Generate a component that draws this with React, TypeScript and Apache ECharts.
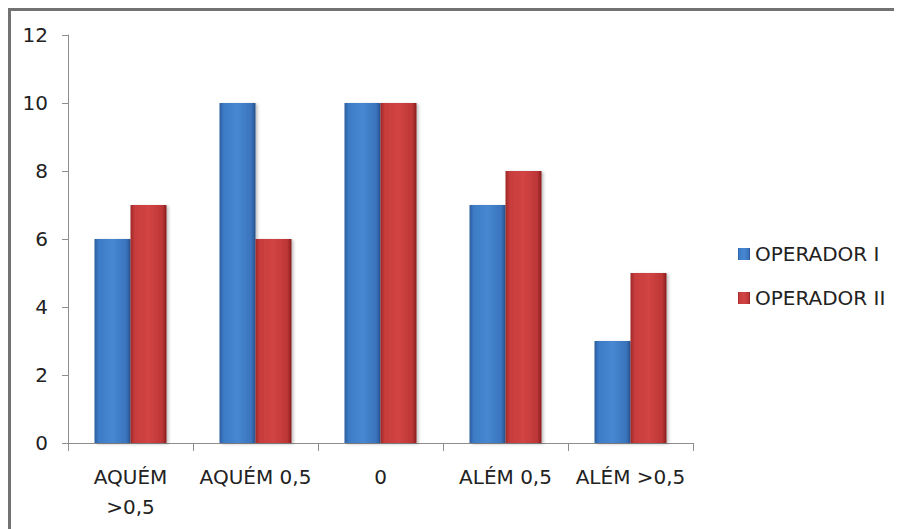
import React, { useEffect, useRef } from "react";
import * as echarts from "echarts";

const categories = ["AQUÉM\n>0,5", "AQUÉM 0,5", "0", "ALÉM 0,5", "ALÉM >0,5"];
const operador1 = [6, 10, 10, 7, 3];
const operador2 = [7, 6, 10, 8, 5];
const seriesNames = ["OPERADOR I", "OPERADOR II"];

const FONT = "'DejaVu Sans', 'Noto Sans', sans-serif";
const TEXT = "#222222";

const blueGrad = new echarts.graphic.LinearGradient(0, 0, 1, 0, [
  { offset: 0, color: "#2c5e9f" },
  { offset: 0.12, color: "#3d7bc6" },
  { offset: 0.5, color: "#4787d2" },
  { offset: 0.88, color: "#3a74bd" },
  { offset: 1, color: "#27518b" },
]);
const redGrad = new echarts.graphic.LinearGradient(0, 0, 1, 0, [
  { offset: 0, color: "#9e2828" },
  { offset: 0.12, color: "#c73c3c" },
  { offset: 0.5, color: "#d24444" },
  { offset: 0.88, color: "#bd3636" },
  { offset: 1, color: "#871e1e" },
]);

export default function App() {
  const ref = useRef<HTMLDivElement>(null);
  useEffect(() => {
    document.documentElement.style.overflow = "hidden";
    document.body.style.overflow = "hidden";
    if (!ref.current) return;
    const chart = echarts.init(ref.current, null, { renderer: "svg" });
    chart.setOption({
      animation: false,
      backgroundColor: "#ffffff",
      textStyle: { fontFamily: FONT },
      graphic: [
        { type: "line", shape: { x1: 0, y1: 1.5, x2: 894, y2: 1.5 }, style: { stroke: "#727272", lineWidth: 3 } },
        { type: "line", shape: { x1: 1.5, y1: 0, x2: 1.5, y2: 521 }, style: { stroke: "#727272", lineWidth: 3 } },
      ],
      grid: { left: 60, top: 27, width: 625, height: 408, containLabel: false },
      legend: {
        orient: "vertical",
        left: 725,
        top: 231,
        itemWidth: 12,
        itemHeight: 12,
        itemGap: 24,
        icon: "rect",
        textStyle: { fontFamily: FONT, fontSize: 20, color: TEXT, lineHeight: 20 },
        data: seriesNames,
      },
      xAxis: {
        type: "category",
        data: categories,
        axisLine: { lineStyle: { color: "#8e8e8e", width: 1 } },
        axisTick: { show: true, length: 8, lineStyle: { color: "#8e8e8e" } },
        axisLabel: { interval: 0, margin: 19, fontSize: 20, color: TEXT, lineHeight: 30, fontFamily: FONT },
        splitLine: { show: false },
      },
      yAxis: {
        type: "value",
        min: 0,
        max: 12,
        interval: 2,
        axisLine: { show: true, lineStyle: { color: "#8e8e8e", width: 1 } },
        axisTick: { show: true, length: 6, lineStyle: { color: "#8e8e8e" } },
        axisLabel: { margin: 20, fontSize: 20, color: TEXT, fontFamily: FONT },
        splitLine: { show: false },
      },
      series: [
        {
          name: seriesNames[0],
          type: "bar",
          data: operador1,
          barWidth: 36,
          barGap: "0%",
          itemStyle: { color: blueGrad, shadowBlur: 3, shadowOffsetX: 2, shadowOffsetY: 1, shadowColor: "rgba(0,0,0,0.25)" },
        },
        {
          name: seriesNames[1],
          type: "bar",
          data: operador2,
          barWidth: 36,
          barGap: "0%",
          itemStyle: { color: redGrad, shadowBlur: 3, shadowOffsetX: 2, shadowOffsetY: 1, shadowColor: "rgba(0,0,0,0.25)" },
        },
      ],
    });
    return () => chart.dispose();
  }, []);
  return <div ref={ref} style={{ width: 894, height: 521 }} />;
}
